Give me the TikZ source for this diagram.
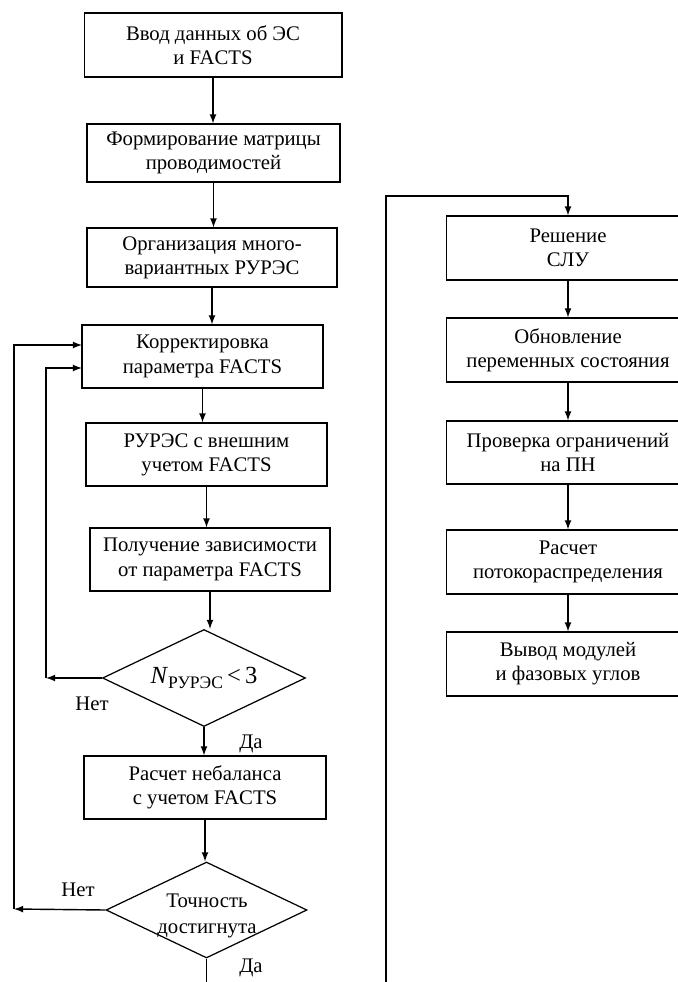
\documentclass[tikz,border=0pt]{standalone}
\usepackage{fontspec}
\setmainfont{Liberation Serif}
\usetikzlibrary{arrows, shapes.geometric, positioning}
\tikzset{
    stepBox/.style={rectangle, draw, line width=0.6pt, align=center, inner sep=0pt, font=\fontsize{11.8}{13.8}\selectfont},
    testBox/.style={diamond, draw, line width=0.7pt, align=center, inner sep=0pt, aspect=2.1},
    flowEdge/.style={->, >=latex, line width=0.8pt},
    flowLine/.style={line width=0.8pt},
    answer/.style={font=\fontsize{11.8}{14.5}\selectfont},
}
\newcommand{\stepDown}[3][flowEdge]{
    \draw[#1] (#2.south) -- (#2.south |- #3.north);
}

\begin{document}
\begin{tikzpicture}[x=0.02cm, y=-0.02cm]
        \useasboundingbox (0,0) rectangle (678,982);
        \clip (0,0) rectangle (678,982);

        % left column
        \node[stepBox, minimum width=5.16cm, minimum height=1.28cm] (input) at (213,45) {Ввод данных об ЭС\\и FACTS};
        \node[stepBox, minimum width=5.06cm, minimum height=1.16cm] (matrix) at (213.5,153) {Формирование матрицы\\проводимостей};
        \node[stepBox, minimum width=5.00cm, minimum height=1.18cm] (multi) at (212,257.5) {Организация много-\\вариантных РУРЭС};
        \node[stepBox, minimum width=4.82cm, minimum height=1.26cm] (adjust) at (202.5,356.5) {Корректировка\\параметра FACTS};
        \node[stepBox, minimum width=4.82cm, minimum height=1.26cm] (extern) at (206.5,454.5) {РУРЭС с внешним\\учетом FACTS};
        \node[stepBox, minimum width=4.80cm, minimum height=1.26cm] (depend) at (210,559.5) {Получение зависимости\\от параметра FACTS};
        \node[testBox, minimum width=4.06cm, minimum height=1.94cm, font=\fontsize{14}{16}\selectfont] (count) at (204,678) {\textit{N}\raisebox{-0.45ex}{\fontsize{10}{12}\selectfont РУРЭС}\,<\,3};
        \node[stepBox, minimum width=4.84cm, minimum height=1.26cm] (unbal) at (205,787.5) {Расчет небаланса\\с учетом FACTS};
        \node[testBox, minimum width=4.02cm, minimum height=1.92cm] (accur) at (206.5,910) {};
        \node[answer, align=center] (accurText) at (207,916) {Точность\\достигнута};

        \node[answer] (noA) at (92,704) {Нет};
        \node[answer] (yesA) at (251,744) {Да};
        \node[answer] (noB) at (78,890) {Нет};
        \node[answer] (yesB) at (251,968) {Да};

        % right column
        \node[stepBox, minimum width=4.88cm, minimum height=1.28cm] (solve) at (568,248) {Решение\\СЛУ};
        \node[stepBox, minimum width=4.88cm, minimum height=1.28cm] (update) at (568,350) {Обновление\\переменных состояния};
        \node[stepBox, minimum width=4.88cm, minimum height=1.26cm] (check) at (568,452.5) {Проверка ограничений\\на ПН};
        \node[stepBox, minimum width=4.88cm, minimum height=1.28cm] (flow) at (568,562) {Расчет\\потокораспределения};
        \node[stepBox, minimum width=4.88cm, minimum height=1.28cm] (output) at (568,664) {Вывод модулей\\и фазовых углов};

        \coordinate (loopA) at (46,678);
        \coordinate (loopB) at (14,909);
        \coordinate (inA) at (82,368);
        \coordinate (inB) at (82,345);
        \coordinate (leftEnd) at (206,982);
        \coordinate (jumpLow) at (386,982);
        \coordinate (jumpTop) at (386,196);

        \stepDown{input}{matrix}
        \stepDown{matrix}{multi}
        \stepDown{multi}{adjust}
        \stepDown{adjust}{extern}
        \stepDown{extern}{depend}
        \stepDown{depend}{count}
        \stepDown{count}{unbal}
        \stepDown{unbal}{accur}
        \draw[flowLine] (accur.south) -- (accur.south |- leftEnd);

        \draw[flowEdge] (count.west) -- (loopA);
        \draw[flowEdge] (loopA) -- (loopA |- inA) -- (inA);
        \draw[flowEdge] (accur.west) -- (loopB);
        \draw[flowEdge] (loopB) -- (loopB |- inB) -- (inB);

        \draw[flowEdge] (jumpLow) -- (jumpTop) -- (jumpTop -| solve.north) -- (solve.north);
        \stepDown{solve}{update}
        \stepDown{update}{check}
        \stepDown{check}{flow}
        \stepDown{flow}{output}
    \end{tikzpicture}
\end{document}
